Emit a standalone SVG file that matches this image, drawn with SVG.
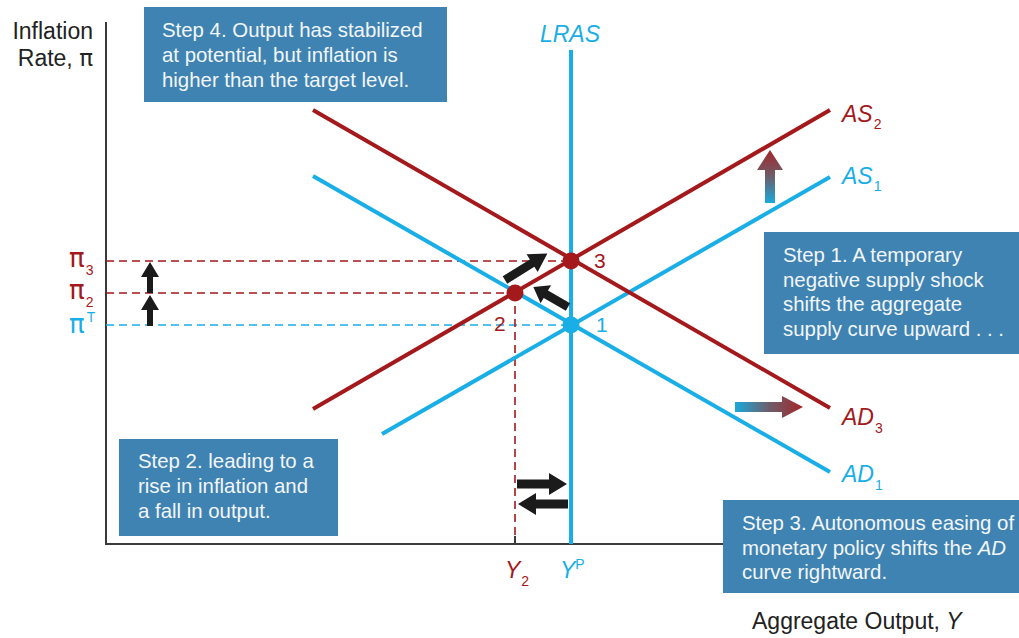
<svg xmlns="http://www.w3.org/2000/svg" width="1019" height="638" viewBox="0 0 1019 638">
<style>
.axis{stroke:#3a3a3a;stroke-width:2;fill:none}
.blue{stroke:#1aaee6;stroke-width:4;fill:none}
.red{stroke:#a3191c;stroke-width:4;fill:none}
.dr{stroke:#a3191c;stroke-width:1.6;stroke-dasharray:8 5;fill:none}
.db{stroke:#1aaee6;stroke-width:1.6;stroke-dasharray:8 5;fill:none}
.box{fill:#3f83b3}
.bt{font-family:"Liberation Sans",Arial,sans-serif;font-size:20.4px;fill:#f3f6f9}
.lab{font-family:"Liberation Sans",Arial,sans-serif;font-size:23px;fill:#222}
.cl{font-family:"Liberation Sans",Arial,sans-serif;font-style:italic;font-size:23px}
.sub{font-family:"Liberation Sans",Arial,sans-serif;font-style:normal;font-size:14px;font-weight:normal}
.num{font-family:"Liberation Sans",Arial,sans-serif;font-size:21px}
.pi{font-family:"DejaVu Sans",sans-serif;font-size:26px}
.rf{fill:#a3191c}
.bf{fill:#1aaee6}
.arr{fill:#1b1b1b}
</style>
<defs>
<linearGradient id="gUp" x1="0" y1="1" x2="0" y2="0">
<stop offset="0" stop-color="#19a9dc"/>
<stop offset="0.5" stop-color="#6d5e6a"/>
<stop offset="1" stop-color="#a3262a"/>
</linearGradient>
<linearGradient id="gRt" x1="0" y1="0" x2="1" y2="0">
<stop offset="0" stop-color="#19a9dc"/>
<stop offset="0.5" stop-color="#6d5e6a"/>
<stop offset="1" stop-color="#a3262a"/>
</linearGradient>
<polygon id="bigArrow" points="0,-4.5 32,-4.5 32,-11 50,0 32,11 32,4.5 0,4.5"/>
</defs>

<g id="axes">
<line class="axis" x1="106" y1="22" x2="106" y2="544"/>
<line class="axis" x1="105" y1="544" x2="724" y2="544"/>
<line class="axis" x1="515" y1="536" x2="515" y2="544"/>
</g>

<g id="axis-labels">
<text class="lab" x="93" y="39" text-anchor="end">Inflation</text>
<text class="lab" x="93" y="66" text-anchor="end">Rate, <tspan font-family="DejaVu Sans,sans-serif" font-size="23">π</tspan></text>
<text class="lab" x="752" y="629">Aggregate Output, <tspan font-style="italic">Y</tspan></text>
</g>

<g id="connectors">
<line class="dr" x1="106" y1="261" x2="571" y2="261"/>
<line class="dr" x1="106" y1="293" x2="515" y2="293"/>
<line class="db" x1="106" y1="325" x2="571" y2="325"/>
<line class="dr" x1="515" y1="293" x2="515" y2="536"/>
</g>

<g id="LRAS">
<line class="blue" x1="571" y1="50" x2="571" y2="544"/>
<text class="cl bf" x="570" y="42" text-anchor="middle" font-size="21">LRAS</text>
</g>

<g id="AS1">
<line class="blue" x1="382" y1="434" x2="830" y2="177"/>
<text class="cl bf" x="842" y="184">AS<tspan class="sub" dy="7" dx="1">1</tspan></text>
</g>
<g id="AS2">
<line class="red" x1="313" y1="409" x2="830" y2="110"/>
<text class="cl rf" x="842" y="122">AS<tspan class="sub" dy="7" dx="1">2</tspan></text>
</g>
<g id="AD1">
<line class="blue" x1="313" y1="176" x2="830" y2="472"/>
<text class="cl bf" x="842" y="482">AD<tspan class="sub" dy="8" dx="1">1</tspan></text>
</g>
<g id="AD3">
<line class="red" x1="313" y1="110" x2="830" y2="408"/>
<text class="cl rf" x="842" y="425">AD<tspan class="sub" dy="8" dx="1">3</tspan></text>
</g>

<g id="pi-labels">
<text class="pi rf" x="69" y="267">π<tspan class="sub" font-size="15" dy="8" dx="1">3</tspan></text>
<text class="pi rf" x="69" y="299">π<tspan class="sub" font-size="15" dy="8" dx="1">2</tspan></text>
<text class="pi bf" x="69" y="333">π<tspan class="sub" font-size="14" font-style="italic" dy="-11" dx="2">T</tspan></text>
</g>

<g id="y-labels">
<text class="cl rf" x="505" y="578" font-size="21">Y<tspan class="sub" dy="8" dx="1">2</tspan></text>
<text class="cl bf" x="560" y="578" font-size="21">Y<tspan class="sub" font-style="italic" dy="-9" dx="0">P</tspan></text>
</g>

<g id="point1">
<circle cx="571" cy="325" r="8.5" class="bf"/>
<text class="num bf" x="596" y="332">1</text>
</g>
<g id="point2">
<circle cx="515" cy="293" r="8.5" class="rf"/>
<text class="num rf" x="494" y="331">2</text>
</g>
<g id="point3">
<circle cx="571" cy="261" r="8.5" class="rf"/>
<text class="num rf" x="594" y="268">3</text>
</g>

<g id="shift-arrows">
<polygon points="765,203 765,170 757,170 770,150 783,170 775,170 775,203" fill="url(#gUp)"/>
<polygon points="735,402 782,402 782,396 803,407 782,418 782,412 735,412" fill="url(#gRt)"/>
</g>

<g id="black-arrows">
<polygon class="arr" points="147,293 147,277 141,277 150,262 159,277 153,277 153,293"/>
<polygon class="arr" points="147,326 147,310 141,310 150,295 159,310 153,310 153,326"/>
<use href="#bigArrow" class="arr" transform="translate(505,280) rotate(-32) scale(1.0,0.95)"/>
<use href="#bigArrow" class="arr" transform="translate(568,307) rotate(-150) scale(0.8,0.95)"/>
<use href="#bigArrow" class="arr" transform="translate(517,484)"/>
<use href="#bigArrow" class="arr" transform="translate(568,504) rotate(180)"/>
</g>

<g id="step4">
<rect class="box" x="144" y="7" width="303" height="95"/>
<text class="bt" x="162" y="37">Step 4. Output has stabilized</text>
<text class="bt" x="162" y="62">at potential, but inflation is</text>
<text class="bt" x="162" y="87">higher than the target level.</text>
</g>
<g id="step1">
<rect class="box" x="764" y="232" width="255" height="122"/>
<text class="bt" x="783" y="262">Step 1. A temporary</text>
<text class="bt" x="783" y="287">negative supply shock</text>
<text class="bt" x="783" y="311">shifts the aggregate</text>
<text class="bt" x="783" y="336">supply curve upward . . .</text>
</g>
<g id="step2">
<rect class="box" x="119" y="439" width="219" height="97"/>
<text class="bt" x="138" y="468">Step 2. leading to a</text>
<text class="bt" x="138" y="493">rise in inflation and</text>
<text class="bt" x="138" y="518">a fall in output.</text>
</g>
<g id="step3">
<rect class="box" x="723" y="500" width="296" height="93"/>
<text class="bt" x="742" y="530">Step 3. Autonomous easing of</text>
<text class="bt" x="742" y="555">monetary policy shifts the <tspan font-style="italic">AD</tspan></text>
<text class="bt" x="742" y="579">curve rightward.</text>
</g>
</svg>
